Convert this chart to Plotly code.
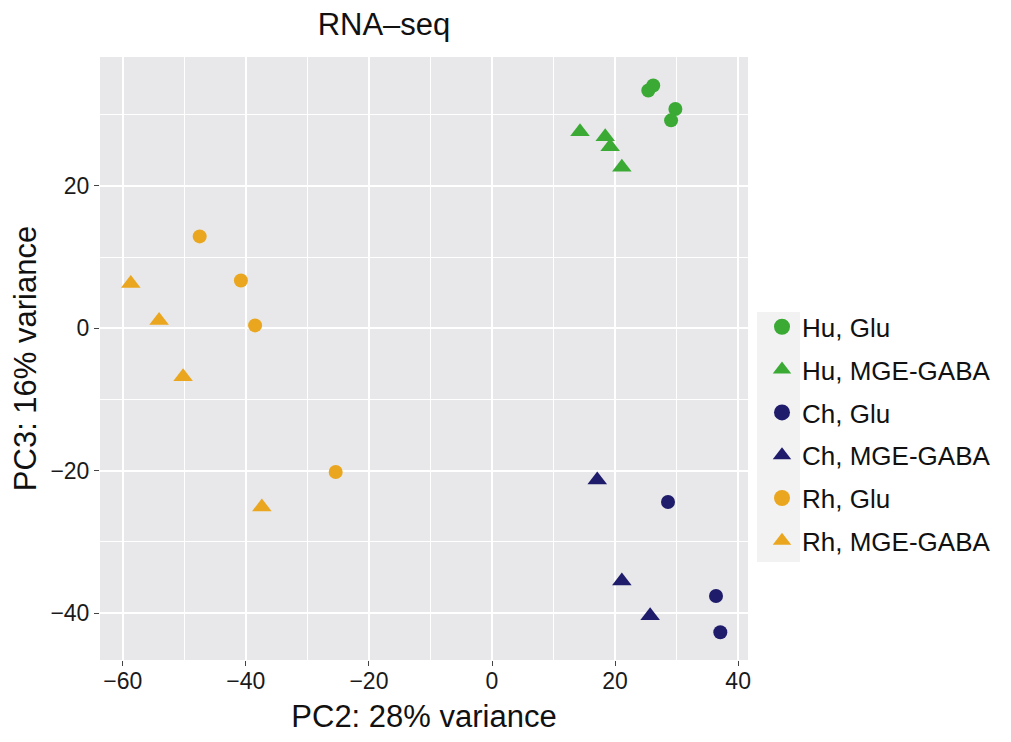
import plotly.graph_objects as go

groups = ["Hu, Glu", "Hu, MGE-GABA", "Ch, Glu", "Ch, MGE-GABA", "Rh, Glu", "Rh, MGE-GABA"]
colors = ["#3AAA35", "#3AAA35", "#1F1C6B", "#1F1C6B", "#EAA61E", "#EAA61E"]
symbols = ["circle", "triangle-up", "circle", "triangle-up", "circle", "triangle-up"]

hu_glu_x = [25.4, 26.2, 29.8, 29.1]
hu_glu_y = [33.4, 34.1, 30.8, 29.2]
hu_gaba_x = [14.3, 18.4, 19.2, 21.1]
hu_gaba_y = [27.6, 26.9, 25.5, 22.6]
ch_glu_x = [28.6, 36.4, 37.1]
ch_glu_y = [-24.4, -37.6, -42.7]
ch_gaba_x = [17.1, 21.1, 25.7]
ch_gaba_y = [-21.3, -35.5, -40.4]
rh_glu_x = [-47.5, -40.8, -38.5, -25.4]
rh_glu_y = [12.9, 6.7, 0.4, -20.2]
rh_gaba_x = [-58.7, -54.1, -50.2, -37.4]
rh_gaba_y = [6.3, 1.1, -6.8, -25.1]

xs = [hu_glu_x, hu_gaba_x, ch_glu_x, ch_gaba_x, rh_glu_x, rh_gaba_x]
ys = [hu_glu_y, hu_gaba_y, ch_glu_y, ch_gaba_y, rh_glu_y, rh_gaba_y]

fig = go.Figure()
for i, g in enumerate(groups):
    fig.add_trace(go.Scatter(
        x=xs[i], y=ys[i], mode="markers", name=g, legendgroup=g, showlegend=False,
        marker=dict(color=colors[i], symbol=symbols[i],
                    size=14 if symbols[i] == "circle" else 17,
                    line=dict(width=0)),
    ))
# legend keys (larger, as in the reference)
for i, g in enumerate(groups):
    fig.add_trace(go.Scatter(
        x=[None], y=[None], mode="markers", name=g, legendgroup=g, showlegend=True,
        marker=dict(color=colors[i], symbol=symbols[i],
                    size=18 if symbols[i] == "circle" else 22,
                    line=dict(width=0)),
    ))

# grey key background like ggplot's legend.key
fig.add_shape(type="rect", xref="paper", yref="paper",
              x0=(757 - 100) / 648, x1=(800 - 100) / 648,
              y0=(660 - 562) / 603, y1=(660 - 312) / 603,
              fillcolor="#F2F2F3", line=dict(width=0), layer="below")

font = "Liberation Sans, Arial, Helvetica, sans-serif"
fig.update_layout(
    width=1011, height=742,
    margin=dict(l=100, r=263, t=57, b=82),
    paper_bgcolor="white", plot_bgcolor="#E8E8EA",
    font=dict(family=font, color="#1a1a1a", size=18),
    title=dict(text="RNA\u2013seq", x=384 / 1011, xanchor="center", y=1 - 24 / 742,
               yanchor="middle", font=dict(size=31, color="#111")),
    legend=dict(x=(762 - 100) / 648, xanchor="left", y=0.375, yanchor="middle",
                bgcolor="rgba(0,0,0,0)", font=dict(size=26, color="#111"),
                tracegroupgap=6, itemsizing="trace"),
    showlegend=True,
)
fig.update_xaxes(
    range=[-63.7, 41.6], tickvals=[-60, -40, -20, 0, 20, 40],
    ticktext=["\u221260", "\u221240", "\u221220", "0", "20", "40"],
    showgrid=True, gridcolor="white", gridwidth=1.6, zeroline=False,
    minor=dict(dtick=10, tick0=0, showgrid=True, gridcolor="white", gridwidth=0.6),
    ticks="outside", ticklen=5, tickwidth=1.2, tickcolor="#444",
    tickfont=dict(size=23, color="#1a1a1a"), ticklabelstandoff=-5,
    title=dict(text="PC2: 28% variance", font=dict(size=31, color="#111"), standoff=12),
)
fig.update_yaxes(
    range=[-46.6, 38.1], tickvals=[-40, -20, 0, 20],
    ticktext=["\u221240", "\u221220", "0", "20"],
    showgrid=True, gridcolor="white", gridwidth=1.6, zeroline=False,
    minor=dict(dtick=10, tick0=0, showgrid=True, gridcolor="white", gridwidth=0.6),
    ticks="outside", ticklen=5, tickwidth=1.2, tickcolor="#444",
    tickfont=dict(size=23, color="#1a1a1a"),
    title=dict(text="PC3: 16% variance", font=dict(size=31, color="#111"), standoff=4),
)

fig.write_html("out.html")
